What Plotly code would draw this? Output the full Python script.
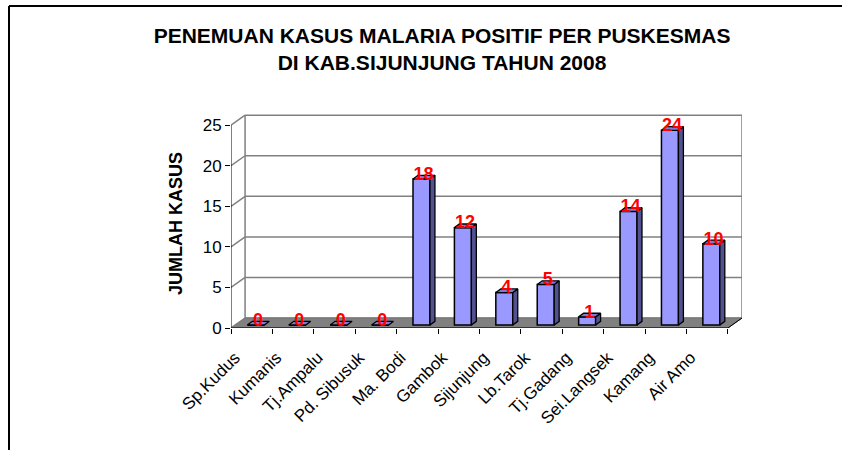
import plotly.graph_objects as go

puskesmas = ["Sp.Kudus", "Kumanis", "Tj.Ampalu", "Pd. Sibusuk", "Ma. Bodi", "Gambok",
             "Sijunjung", "Lb.Tarok", "Tj.Gadang", "Sei.Langsek", "Kamang", "Air Amo"]
kasus = [0, 0, 0, 0, 18, 12, 4, 5, 1, 14, 24, 10]
y_ticks = [0, 5, 10, 15, 20, 25]

FONT = "Arial, Liberation Sans, sans-serif"
# fake 3d depth (category units / y units)
DX, DY = 0.34, 1.23
X0, Z0 = 0.10, 0.37      # bar front face offset into the floor
BW = 0.41                # bar front width
BDX, BDY = 0.12, 0.45    # bar depth

xs = list(range(len(puskesmas)))
n = len(xs)

fig = go.Figure()

# front faces
fig.add_trace(go.Bar(
    x=xs, y=kasus, base=[Z0] * n, width=BW, offset=X0 - BW / 2,
    marker=dict(color="#9999FF", line=dict(color="black", width=1.5)),
    showlegend=False, hoverinfo="skip"
))

# side + top faces
side_x, side_y, top_x, top_y = [], [], [], []
for i, v in zip(xs, kasus):
    l = i + X0 - BW / 2
    r = i + X0 + BW / 2
    if v > 0:
        side_x += [r, r + BDX, r + BDX, r, r, None]
        side_y += [Z0, Z0 + BDY, v + Z0 + BDY, v + Z0, Z0, None]
    top_x += [l, r, r + BDX, l + BDX, l, None]
    top_y += [v + Z0, v + Z0, v + Z0 + BDY, v + Z0 + BDY, v + Z0, None]

fig.add_trace(go.Scatter(x=side_x, y=side_y, mode="lines", fill="toself",
                         fillcolor="#525290", line=dict(color="black", width=1.3),
                         showlegend=False, hoverinfo="skip"))
fig.add_trace(go.Scatter(x=top_x, y=top_y, mode="lines", fill="toself",
                         fillcolor="#7C7CD8", line=dict(color="black", width=1.3),
                         showlegend=False, hoverinfo="skip"))

# axis lines
fig.add_trace(go.Scatter(x=[-0.5, -0.5], y=[0, y_ticks[-1]], mode="lines",
                         line=dict(color="black", width=1), showlegend=False, hoverinfo="skip"))
fig.add_trace(go.Scatter(x=[-0.5, n - 0.5], y=[0, 0], mode="lines",
                         line=dict(color="black", width=1), showlegend=False, hoverinfo="skip"))

# value labels
fig.add_trace(go.Scatter(
    x=[i + X0 + 0.05 for i in xs], y=[v + Z0 + 0.45 for v in kasus],
    text=[str(v) for v in kasus], mode="text", textposition="middle center",
    textfont=dict(family=FONT, size=18, color="#FF0000", weight="bold"),
    showlegend=False, hoverinfo="skip"
))

shapes = []
# floor
shapes.append(dict(type="path", xref="x", yref="y", layer="below",
                   path=f"M -0.5 0 L {n - 0.5} 0 L {n - 0.5 + DX} {DY} L {-0.5 + DX} {DY} Z",
                   fillcolor="#808080", line=dict(color="#555555", width=1)))
# back wall grid + left wall diagonals
for t in y_ticks:
    shapes.append(dict(type="line", xref="x", yref="y", layer="below",
                       x0=-0.5 + DX, x1=n - 0.5 + DX, y0=t + DY, y1=t + DY,
                       line=dict(color="#808080", width=1.5)))
    shapes.append(dict(type="line", xref="x", yref="y", layer="below",
                       x0=-0.5, x1=-0.5 + DX, y0=t, y1=t + DY,
                       line=dict(color="#808080", width=1.5)))
for xx in (-0.5 + DX, n - 0.5 + DX):
    shapes.append(dict(type="line", xref="x", yref="y", layer="below",
                       x0=xx, x1=xx, y0=DY, y1=y_ticks[-1] + DY,
                       line=dict(color="#808080", width=1.5)))
shapes.append(dict(type="line", xref="x", yref="y",
                   x0=n - 0.5, x1=n - 0.5 + DX, y0=0, y1=DY,
                   line=dict(color="black", width=1)))

# outer chart frame (top + left edges)
L, R, T, B = 231, 100, 113, 122
pw, ph = 842 - L - R, 450 - T - B
def px(x):
    return (x - L) / pw
def py(y):
    return (450 - B - y) / ph
shapes.append(dict(type="line", xref="paper", yref="paper", x0=px(9), x1=px(842),
                   y0=py(6), y1=py(6), line=dict(color="black", width=2)))
shapes.append(dict(type="line", xref="paper", yref="paper", x0=px(9), x1=px(9),
                   y0=py(6), y1=py(450), line=dict(color="black", width=2)))

fig.update_layout(
    width=842, height=450,
    margin=dict(l=L, r=R, t=T, b=B),
    paper_bgcolor="white", plot_bgcolor="white",
    font=dict(family=FONT, color="black"),
    title=dict(text="PENEMUAN KASUS MALARIA POSITIF PER PUSKESMAS<br>DI KAB.SIJUNJUNG TAHUN 2008",
               x=0.525, xanchor="center", y=1 - 43 / 450, yanchor="middle",
               font=dict(family=FONT, size=21, color="black", weight="bold")),
    shapes=shapes,
    annotations=[dict(text="JUMLAH KASUS", xref="paper", yref="paper",
                      x=px(176), y=py(224), xanchor="center", yanchor="middle",
                      textangle=-90, showarrow=False,
                      font=dict(family=FONT, size=18, color="black", weight="bold"))],
    xaxis=dict(range=[-0.5, n - 0.6 + DX + 0.1], tickvals=[i - 0.4 for i in xs],
               ticktext=puskesmas, tickangle=-45, tickfont=dict(size=17),
               showgrid=False, zeroline=False, ticks="outside", ticklen=12,
               tickcolor="rgba(0,0,0,0)", showline=False),
    xaxis2=dict(overlaying="x", matches="x", side="bottom", anchor="y",
                tickvals=[i - 0.5 for i in range(n + 1)], showticklabels=False,
                ticks="outside", ticklen=5, tickcolor="black", showgrid=False,
                zeroline=False, showline=False),
    yaxis=dict(range=[0, 26.5], tickvals=y_ticks, tickfont=dict(size=17),
               ticks="outside", ticklen=5, tickcolor="black", showgrid=False,
               zeroline=False, showline=False),
)

# dummy trace to make xaxis2 visible
fig.add_trace(go.Scatter(x=[0], y=[0], xaxis="x2", mode="markers",
                         marker=dict(opacity=0), showlegend=False, hoverinfo="skip"))

fig.write_html("out.html", config={"displayModeBar": False},
               post_script="document.body.style.margin='0';")
